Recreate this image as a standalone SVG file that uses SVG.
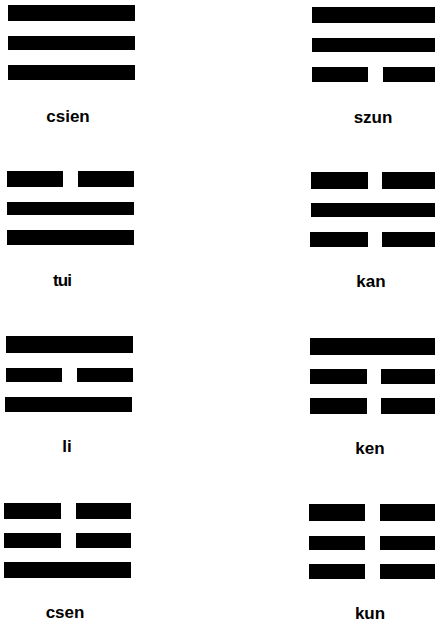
<svg xmlns="http://www.w3.org/2000/svg" width="435" height="625" viewBox="0 0 435 625">
<style>
.bar{fill:#000}
.lbl{font-family:"Liberation Sans",Arial,sans-serif;font-weight:bold;font-size:17px;fill:#000;text-anchor:middle}
</style>
<rect width="435" height="625" fill="#fff"/>
<g id="csien">
<rect class="bar" x="8" y="5" width="127" height="16"/>
<rect class="bar" x="8" y="36" width="127" height="14"/>
<rect class="bar" x="8" y="65" width="127" height="15"/>
<text class="lbl" x="68" y="122">csien</text>
</g>
<g id="szun">
<rect class="bar" x="312" y="7" width="125" height="16"/>
<rect class="bar" x="312" y="38" width="125" height="14"/>
<rect class="bar" x="312" y="67" width="56" height="15"/>
<rect class="bar" x="383" y="67" width="54" height="15"/>
<text class="lbl" x="373" y="123">szun</text>
</g>
<g id="tui">
<rect class="bar" x="7" y="171" width="56" height="16"/>
<rect class="bar" x="78" y="171" width="56" height="16"/>
<rect class="bar" x="7" y="202" width="127" height="13"/>
<rect class="bar" x="7" y="230" width="127" height="15"/>
<text class="lbl" x="62" y="286" letter-spacing="-1">tui</text>
</g>
<g id="kan">
<rect class="bar" x="311" y="172" width="57" height="17"/>
<rect class="bar" x="382" y="172" width="55" height="17"/>
<rect class="bar" x="311" y="203" width="126" height="14"/>
<rect class="bar" x="310" y="232" width="58" height="15"/>
<rect class="bar" x="382" y="232" width="55" height="15"/>
<text class="lbl" x="371" y="287">kan</text>
</g>
<g id="li">
<rect class="bar" x="6" y="336" width="127" height="17"/>
<rect class="bar" x="6" y="368" width="56" height="14"/>
<rect class="bar" x="77" y="368" width="56" height="14"/>
<rect class="bar" x="5" y="397" width="127" height="15"/>
<text class="lbl" x="67" y="452">li</text>
</g>
<g id="ken">
<rect class="bar" x="310" y="338" width="127" height="17"/>
<rect class="bar" x="310" y="369" width="57" height="15"/>
<rect class="bar" x="381" y="369" width="56" height="15"/>
<rect class="bar" x="310" y="398" width="57" height="16"/>
<rect class="bar" x="381" y="398" width="56" height="16"/>
<text class="lbl" x="370" y="454">ken</text>
</g>
<g id="csen">
<rect class="bar" x="4" y="503" width="57" height="16"/>
<rect class="bar" x="76" y="503" width="55" height="16"/>
<rect class="bar" x="4" y="533" width="57" height="15"/>
<rect class="bar" x="76" y="533" width="55" height="15"/>
<rect class="bar" x="4" y="562" width="127" height="16"/>
<text class="lbl" x="65" y="618">csen</text>
</g>
<g id="kun">
<rect class="bar" x="309" y="504" width="56" height="17"/>
<rect class="bar" x="380" y="504" width="57" height="17"/>
<rect class="bar" x="309" y="536" width="56" height="14"/>
<rect class="bar" x="380" y="536" width="57" height="14"/>
<rect class="bar" x="309" y="564" width="56" height="15"/>
<rect class="bar" x="380" y="564" width="57" height="15"/>
<text class="lbl" x="370" y="619">kun</text>
</g>
</svg>
